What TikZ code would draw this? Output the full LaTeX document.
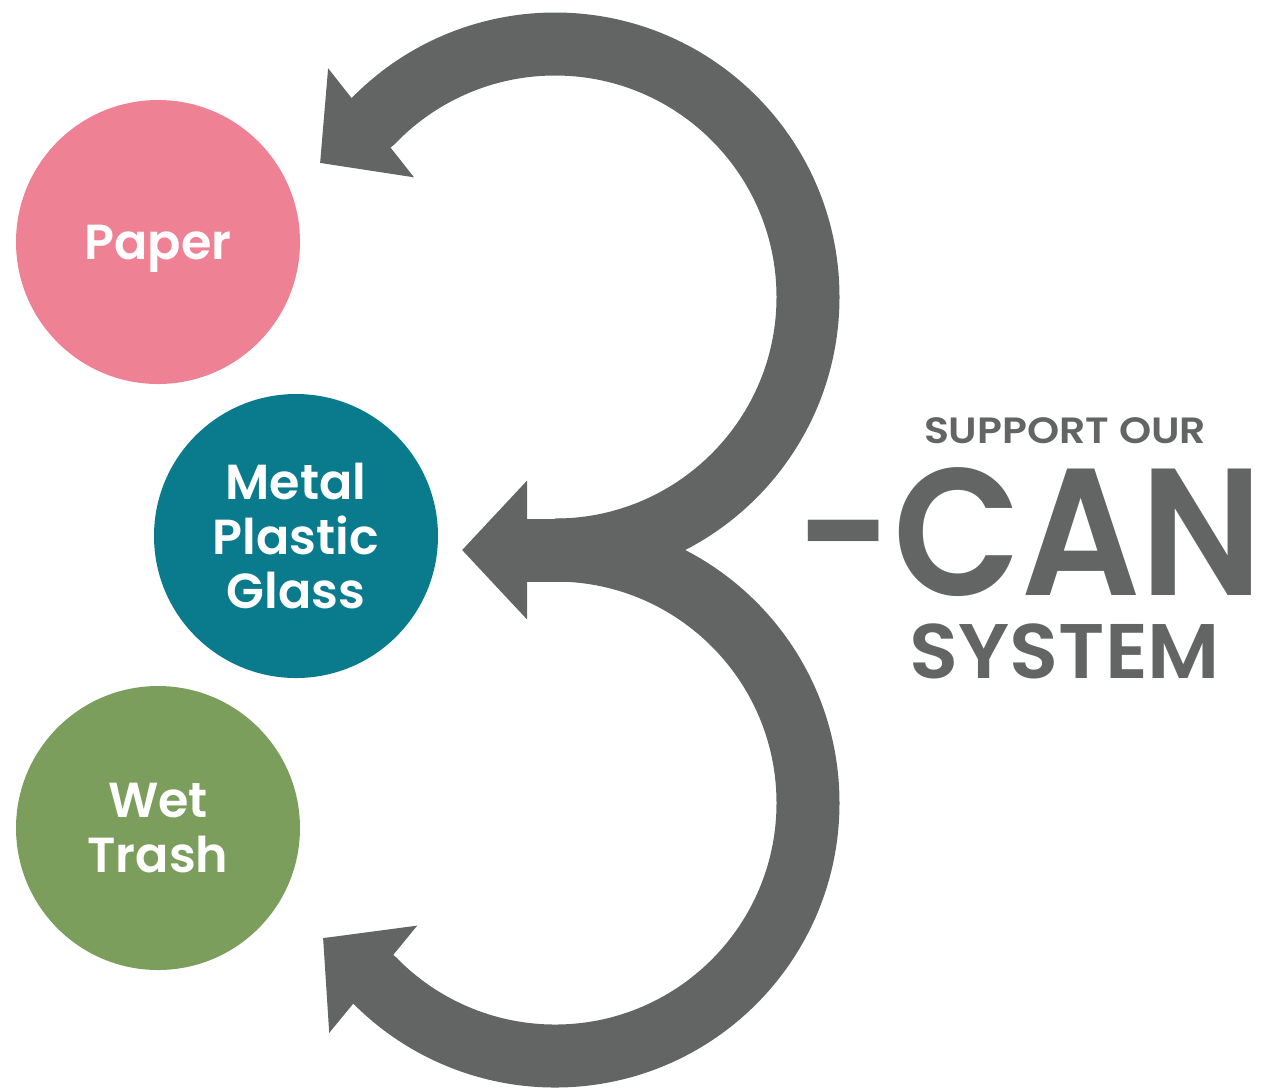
\documentclass[tikz,border=0pt]{standalone}
\usepackage{fontspec}
\setmainfont{Poppins}[BoldFont={* SemiBold}]
\usetikzlibrary{arrows.meta}

\definecolor{gris3}{RGB}{99,101,101}
\definecolor{rosa}{RGB}{238,130,148}
\definecolor{petroleo}{RGB}{10,123,140}
\definecolor{oliva}{RGB}{124,158,92}

\begin{document}
\begin{tikzpicture}[
        bote/.style={circle,minimum size=2.84cm,inner sep=0pt,text=white,align=center,
                     font=\bfseries\fontsize{14}{15.6}\selectfont},
        flecha/.style={line width=6.3mm,draw=gris3,-{Triangle[length=6.5mm,width=13.5mm]}},
        titulo/.style={text=gris3,inner sep=0pt,text depth=0pt}
    ]
        \useasboundingbox (0,0) rectangle (12.7,-10.87);

        % Contenedores
        \node[bote,fill=rosa,text depth=0pt] (papel) at (1.58,-2.42) {Paper};
        \node[bote,fill=petroleo] (metal) at (2.96,-5.36) {Metal\\Plastic\\Glass};
        \node[bote,fill=oliva] (humedo) at (1.58,-8.28) {Wet\\Trash};

        % Puntas de las flechas
        \coordinate (centro) at (5.55,-5.50);
        \coordinate (puntaA) at (3.20,-1.63);
        \coordinate (puntaB) at (4.62,-5.50);
        \coordinate (puntaC) at (3.23,-9.38);

        % El "3"
        \draw[flecha] (centro) arc[start angle=-90,end angle=136,radius=2.53] -- (puntaA);
        \draw[flecha] (centro) arc[start angle=90,end angle=-135.5,radius=2.53] -- (puntaC);
        \draw[flecha] ([xshift=1mm]centro) -- (puntaB);

        % Texto
        \node[titulo,font=\bfseries\fontsize{10.4}{12}\selectfont] (apoyo) at (10.65,-4.31) {\scalebox{1.12}[1]{SUPPORT OUR}};
        \node[titulo,font=\bfseries\fontsize{51.5}{60}\selectfont] (can) at (10.30,-5.31) {\scalebox{0.92}[1]{-CAN}};
        \node[titulo,font=\bfseries\fontsize{22}{26}\selectfont] (sistema) at (10.65,-6.51) {\scalebox{1.04}[1]{SYSTEM}};
\end{tikzpicture}
\end{document}
